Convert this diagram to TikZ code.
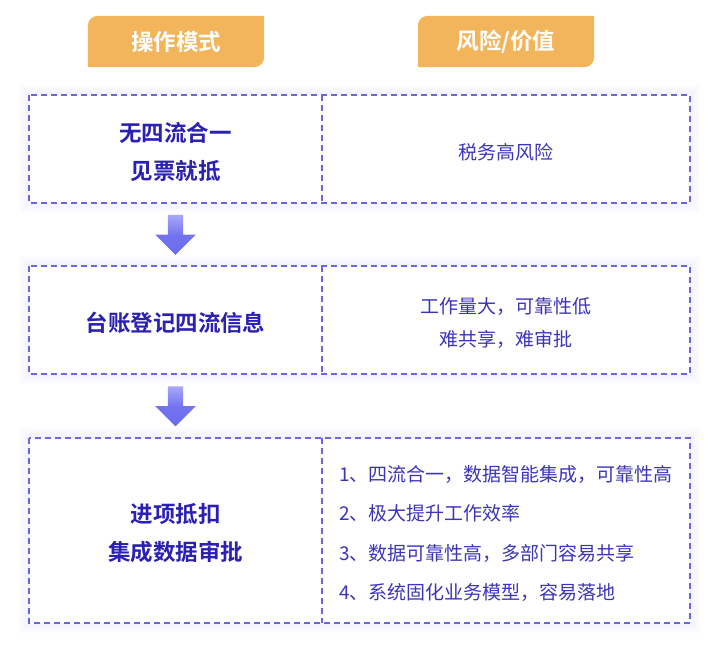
\documentclass[tikz,border=0pt]{standalone}
\usepackage{fontspec}
\setmainfont{Noto Sans CJK SC}[BoldFont={Noto Sans CJK SC Bold}]
\usetikzlibrary{positioning}
\usetikzlibrary{calc}
\usetikzlibrary{shapes.arrows}
\usetikzlibrary{backgrounds}
\definecolor{tabfill}{HTML}{F3B55B}
\definecolor{deepblue}{HTML}{2A20B2}
\definecolor{midblue}{HTML}{3C35B8}
\definecolor{dashblue}{HTML}{6C66DC}
\definecolor{glow}{HTML}{BDBDF0}
\definecolor{arrowtop}{HTML}{A8A8F8}
\definecolor{arrowbot}{HTML}{6A6AEF}
\tikzset{
  cell/.style  = { rectangle, inner sep=0pt, outer sep=0pt, minimum height=108pt },
  mode/.style  = { cell, minimum width=293pt, align=center, text=deepblue,
                   font=\fontsize{22.5}{38}\selectfont\bfseries },
  risk/.style  = { cell, minimum width=368pt, align=center, text=midblue,
                   font=\fontsize{19}{33}\selectfont },
  frame/.style = { dashblue, line width=1.4pt, dash pattern=on 6pt off 4pt },
  halo/.style  = { glow, opacity=0.04 },
}
\tikzset{
  tab/.style   = { rectangle, minimum width=176pt, minimum height=51pt, text=white,
                   font=\fontsize{22.5}{27}\selectfont\bfseries },
  down/.style  = { single arrow, shape border rotate=270, draw=none, inner sep=7.5pt,
                   minimum height=40pt, minimum width=40pt, single arrow head extend=12.5pt,
                   top color=arrowtop, bottom color=arrowbot, middle color=arrowbot!85!arrowtop }
}

\begin{document}
\begin{tikzpicture}[
  x=1pt,y=1pt,
  node distance=63pt
]
  \useasboundingbox (0,0) rectangle (721,645);

  % column heads
  \node (th1) [tab] at (176,603.5) {操作模式};
  \node (th2) [tab] at (506,603.5) {风险/价值};

  % rows (text sits 3pt below the middle of each frame)
  \node (m1) [mode,anchor=north west] at (29,547) {无四流合一\\见票就抵};
  \node (r1) [risk,right=0pt of m1]                {税务高风险};
  \node (m2) [mode,below=of m1]                    {台账登记四流信息};
  \node (r2) [risk,right=0pt of m2]                {工作量大，可靠性低\\难共享，难审批};
  \node (m3) [mode,below=64pt of m2,minimum height=185pt] {进项抵扣\\集成数据审批};
  \node (r3) [risk,right=0pt of m3,minimum height=185pt,align=left,
              font=\fontsize{19}{39.5}\selectfont]
    {1、四流合一，数据智能集成，可靠性高\\2、极大提升工作效率\\3、数据可靠性高，多部门容易共享\\4、系统固化业务模型，容易落地};

  \foreach \row in {1,2,3} {
    \draw [frame] ([yshift=3]m\row.north west) rectangle ([yshift=3]r\row.south east);
    \draw [frame] ([yshift=3]m\row.north east) -- ([yshift=3]m\row.south east);
  }

  % arrows between rows
  \node (a1) [down] at ($(m1.south)!0.5!(m2.north)+(0,6.5)$) {};
  \node (a2) [down] at ($(m2.south)!0.5!(m3.north)+(0,6.5)$) {};

  \begin{scope}[on background layer]
    \foreach \t in {th1,th2}
      \fill [tabfill] (\t.south west) -- ($(\t.north west)+(0,-10)$)
        arc [start angle=180,end angle=90,radius=10] -- (\t.north east)
        -- ($(\t.south east)+(0,10)$) arc [start angle=0,end angle=-90,radius=10] -- cycle;
    \foreach \row in {1,2,3} {
      \foreach \w in {20,16,12,8,4}
        \draw [halo,line width=\w pt] ([yshift=3]m\row.north west) rectangle ([yshift=3]r\row.south east);
      \fill [white] ([yshift=3]m\row.north west) rectangle ([yshift=3]r\row.south east);
    }
  \end{scope}
\end{tikzpicture}
\end{document}
